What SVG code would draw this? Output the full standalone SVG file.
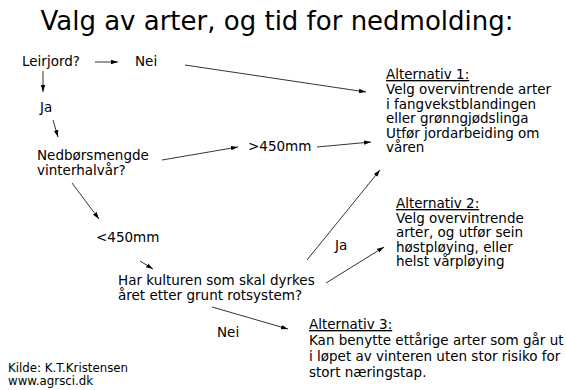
<svg xmlns="http://www.w3.org/2000/svg" width="566" height="390" viewBox="0 0 566 390">
<defs>
<style>
text{font-family:"DejaVu Sans","Liberation Sans",sans-serif;fill:#000}
.t{font-size:13.5px}
.s{font-size:11.8px}
.h{font-size:26px}
.u{text-decoration:underline}
.c line{stroke:#000;stroke-width:0.8;marker-end:url(#a)}
</style>
<marker id="a" markerUnits="userSpaceOnUse" markerWidth="8" markerHeight="6" refX="7" refY="3" orient="auto">
<path d="M0,0.8 L7,3 L0,5.2 z" fill="#000"/>
</marker>
</defs>
<rect width="566" height="390" fill="#fff"/>
<g id="title"><text class="h" x="277" y="30" text-anchor="middle">Valg av arter, og tid for nedmolding:</text></g>
<g id="leirjord"><text class="t" x="22" y="66">Leirjord?</text></g>
<g id="nei1"><text class="t" x="135" y="66">Nei</text></g>
<g id="ja1"><text class="t" x="40" y="112">Ja</text></g>
<g id="nedbor"><text class="t" x="37" y="160">Nedbørsmengde</text><text class="t" x="37" y="175">vinterhalvår?</text></g>
<g id="over450"><text class="t" x="248" y="151">&gt;450mm</text></g>
<g id="under450"><text class="t" x="96" y="242">&lt;450mm</text></g>
<g id="kultur"><text class="t" x="118" y="285">Har kulturen som skal dyrkes</text><text class="t" x="118" y="300">året etter grunt rotsystem?</text></g>
<g id="ja2"><text class="t" x="335" y="250">Ja</text></g>
<g id="nei2"><text class="t" x="217" y="337">Nei</text></g>
<g id="alt1">
<text class="t u" x="386" y="79">Alternativ 1:</text>
<text class="t" x="386" y="94">Velg overvintrende arter</text>
<text class="t" x="386" y="108.5">i fangvekstblandingen</text>
<text class="t" x="386" y="123">eller grønngjødslinga</text>
<text class="t" x="386" y="137.5">Utfør jordarbeiding om</text>
<text class="t" x="386" y="152">våren</text>
</g>
<g id="alt2">
<text class="t u" x="396" y="208">Alternativ 2:</text>
<text class="t" x="396" y="222.5">Velg overvintrende</text>
<text class="t" x="396" y="237">arter, og utfør sein</text>
<text class="t" x="396" y="251.5">høstpløying, eller</text>
<text class="t" x="396" y="266">helst vårpløying</text>
</g>
<g id="alt3">
<text class="t u" x="309" y="329">Alternativ 3:</text>
<text class="t" x="309" y="345">Kan benytte ettårige arter som går ut</text>
<text class="t" x="309" y="361">i løpet av vinteren uten stor risiko for</text>
<text class="t" x="309" y="377">stort næringstap.</text>
</g>
<g id="kilde">
<text class="s" x="8" y="372">Kilde: K.T.Kristensen</text>
<text class="s" x="8" y="385">www.agrsci.dk</text>
</g>
<g id="connectors" class="c">
<line x1="95" y1="62" x2="118" y2="62"/>
<line x1="43" y1="71" x2="43" y2="92"/>
<line x1="185" y1="65" x2="366" y2="92"/>
<line x1="53" y1="120" x2="58" y2="137"/>
<line x1="162" y1="160" x2="238" y2="147"/>
<line x1="317" y1="147" x2="371" y2="142"/>
<line x1="72" y1="183" x2="99" y2="219"/>
<line x1="140" y1="261" x2="153" y2="269"/>
<line x1="307" y1="260" x2="380" y2="170"/>
<line x1="326" y1="283" x2="384" y2="247"/>
<line x1="212" y1="307" x2="288" y2="329"/>
</g>
</svg>
